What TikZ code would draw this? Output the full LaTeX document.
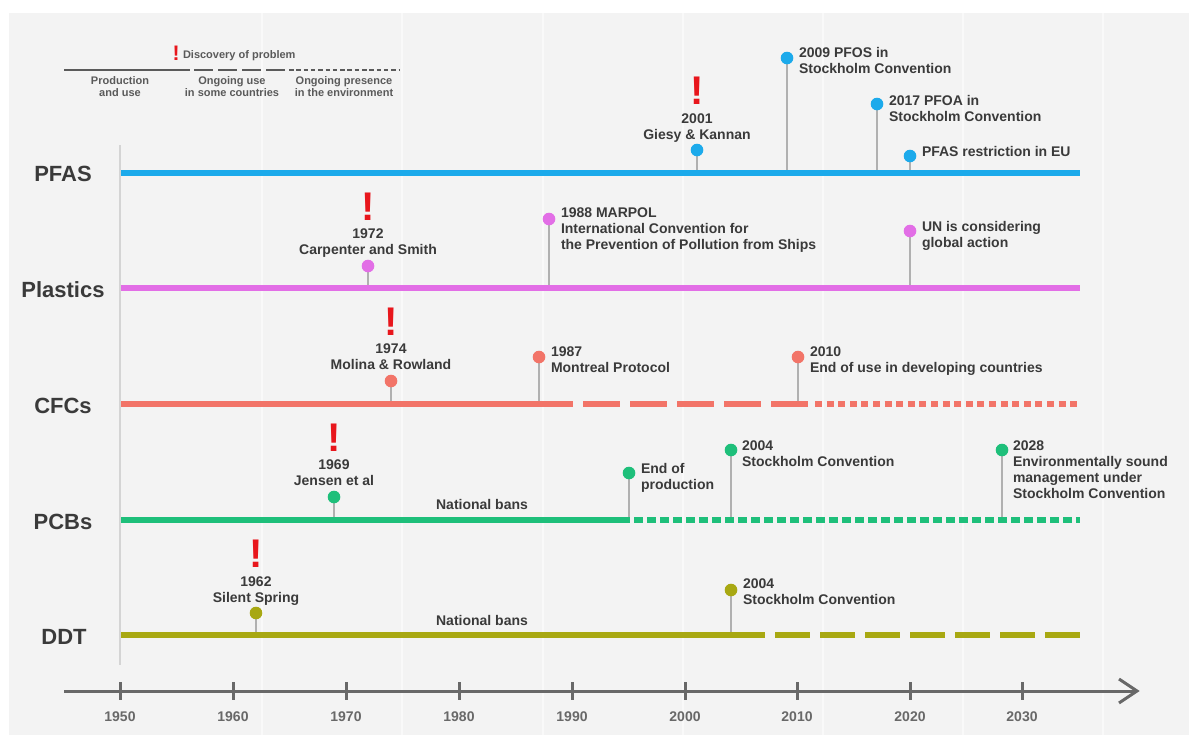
\documentclass[tikz,border=0pt]{standalone}
\usepackage{fontspec}
\setmainfont{Liberation Sans}
\definecolor{bgray}{HTML}{F3F3F3}
\definecolor{txt}{HTML}{3A3A3A}
\definecolor{legtxt}{HTML}{5A5A5A}
\definecolor{axisc}{HTML}{686868}
\definecolor{stemc}{HTML}{B0B0B0}
\definecolor{bangred}{HTML}{E8161C}
\definecolor{cpfas}{HTML}{1CAAEB}
\definecolor{cplast}{HTML}{E26EE6}
\definecolor{ccfc}{HTML}{F27468}
\definecolor{cpcb}{HTML}{1EBF7A}
\definecolor{cddt}{HTML}{A8A812}
\begin{document}
\begin{tikzpicture}[x=0.5pt,y=-0.5pt,
  every node/.style={inner sep=0pt, outer sep=0pt, text=txt},
  evl/.style={font=\bfseries\fontsize{7}{8}\selectfont, align=left, anchor=north west},
  evc/.style={font=\bfseries\fontsize{7}{8}\selectfont, align=center, anchor=north},
  bang/.style={font=\bfseries\fontsize{20}{20}\selectfont, text=bangred},
  evdot/.style={circle, fill=#1, minimum size=6.3pt},
  stemline/.style={draw=stemc, line width=1pt},
  rowline/.style={draw=#1, line width=2.6pt},
  rowlab/.style={font=\bfseries\fontsize{11}{11}\selectfont},
  leglab/.style={font=\bfseries\fontsize{5.5}{6}\selectfont, align=center, anchor=north, text=legtxt},
  legline/.style={draw=legtxt, line width=1.25pt},
  yearlab/.style={font=\bfseries\fontsize{7}{7}\selectfont, text=axisc},
  axisline/.style={draw=axisc, line width=1.5pt}
]
\useasboundingbox (0,0) rectangle (1189,735);
\fill[white] (0,0) rectangle (1189,735);
\fill[bgray] (9,13) rectangle (1189,735);
% faint vertical stripes
\foreach \xx in {262,402,543,683,823,963,1103}
  \draw[white, opacity=0.55, line width=0.8pt] (\xx,13) -- (\xx,735);
% 1950 guide line
\draw[draw=black!17, line width=0.6pt] (120,145) -- (120,665);

% ---------- legend ----------
\node[bang, font=\bfseries\fontsize{10.5}{11}\selectfont] (legbang) at (176,53.5) {!};
\node[anchor=base west, font=\bfseries\fontsize{5.5}{6}\selectfont, text=legtxt] (legdisc) at (183,58) {Discovery of problem};
\coordinate (lg0) at (64,70);
\coordinate (lg1) at (190,70);
\coordinate (lg2) at (194,70);
\coordinate (lg3) at (285,70);
\coordinate (lg4) at (289,70);
\coordinate (lg5) at (400,70);
\draw[legline] (lg0) -- (lg1);
\draw[legline, dash pattern=on 9.5pt off 2.5pt] (lg2) -- (lg3);
\draw[legline, dash pattern=on 2.25pt off 1.4pt] (lg4) -- (lg5);
\node[leglab] (leg1) at (120,77) {Production\\and use};
\node[leglab] (leg2) at (232,77) {Ongoing use\\in some countries};
\node[leglab] (leg3) at (344,77) {Ongoing presence\\in the environment};

% ---------- row labels ----------
\node[rowlab] (lpfas) at (63,174) {PFAS};
\node[rowlab] (lplast) at (63,290) {Plastics};
\node[rowlab] (lcfc) at (63,406) {CFCs};
\node[rowlab] (lpcb) at (63,522) {PCBs};
\node[rowlab] (lddt) at (64,637) {DDT};

% ---------- row coordinates ----------
\coordinate (pfasL) at (121,173);  \coordinate (pfasR) at (1080,173);
\coordinate (plastL) at (121,288); \coordinate (plastR) at (1080,288);
\coordinate (cfcL) at (121,404);   \coordinate (cfcA) at (573,404);
\coordinate (cfcB) at (583,404);   \coordinate (cfcC) at (808,404);
\coordinate (cfcD) at (815,404);   \coordinate (cfcR) at (1080,404);
\coordinate (pcbL) at (121,520);   \coordinate (pcbA) at (630,520);
\coordinate (pcbB) at (634,520);   \coordinate (pcbR) at (1080,520);
\coordinate (ddtL) at (121,635);   \coordinate (ddtA) at (765,635);
\coordinate (ddtB) at (775,635);   \coordinate (ddtR) at (1080,635);

% ---------- event dot positions ----------
\coordinate (p01) at (697,150);
\coordinate (p02) at (787,58);
\coordinate (p03) at (877,104);
\coordinate (p04) at (910,156);
\coordinate (p05) at (368,266);
\coordinate (p06) at (549,219);
\coordinate (p07) at (910,231);
\coordinate (p08) at (391,381);
\coordinate (p09) at (539,357);
\coordinate (p10) at (798,357);
\coordinate (p11) at (334,497);
\coordinate (p12) at (629,473);
\coordinate (p13) at (731,450);
\coordinate (p14) at (1002,450);
\coordinate (p15) at (256,613);
\coordinate (p16) at (731,590);

% ---------- stems ----------
\foreach \p/\r in {p01/pfasL,p02/pfasL,p03/pfasL,p04/pfasL,p05/plastL,p06/plastL,p07/plastL,
                   p08/cfcL,p09/cfcL,p10/cfcL,p11/pcbL,p12/pcbL,p13/pcbL,p14/pcbL,p15/ddtL,p16/ddtL}
  \draw[stemline] (\p) -- (\p |- \r);

% ---------- row lines ----------
\draw[rowline=cpfas] (pfasL) -- (pfasR);
\draw[rowline=cplast] (plastL) -- (plastR);
\draw[rowline=ccfc] (cfcL) -- (cfcA);
\draw[rowline=ccfc, dash pattern=on 18.5pt off 5pt] (cfcB) -- (cfcC);
\draw[rowline=ccfc, dash pattern=on 3.5pt off 2.3pt] (cfcD) -- (cfcR);
\draw[rowline=cpcb] (pcbL) -- (pcbA);
\draw[rowline=cpcb, dash pattern=on 4.25pt off 2.25pt] (pcbB) -- (pcbR);
\draw[rowline=cddt] (ddtL) -- (ddtA);
\draw[rowline=cddt, dash pattern=on 17.5pt off 5pt] (ddtB) -- (ddtR);

% ---------- dots ----------
\node[evdot=cpfas] (d01) at (p01) {};
\node[evdot=cpfas] (d02) at (p02) {};
\node[evdot=cpfas] (d03) at (p03) {};
\node[evdot=cpfas] (d04) at (p04) {};
\node[evdot=cplast] (d05) at (p05) {};
\node[evdot=cplast] (d06) at (p06) {};
\node[evdot=cplast] (d07) at (p07) {};
\node[evdot=ccfc] (d08) at (p08) {};
\node[evdot=ccfc] (d09) at (p09) {};
\node[evdot=ccfc] (d10) at (p10) {};
\node[evdot=cpcb] (d11) at (p11) {};
\node[evdot=cpcb] (d12) at (p12) {};
\node[evdot=cpcb] (d13) at (p13) {};
\node[evdot=cpcb] (d14) at (p14) {};
\node[evdot=cddt] (d15) at (p15) {};
\node[evdot=cddt] (d16) at (p16) {};

% ---------- PFAS labels ----------
\node[bang] (b01) at (697,91) {!};
\node[evc] (t01) at (697,114) {2001\\Giesy \& Kannan};
\node[evl] (t02) at (799,47) {2009 PFOS in\\Stockholm Convention};
\node[evl] (t03) at (889,95) {2017 PFOA in\\Stockholm Convention};
\node[evl] (t04) at (922,146) {PFAS restriction in EU};

% ---------- Plastics labels ----------
\node[bang] (b05) at (368,207) {!};
\node[evc] (t05) at (368,229) {1972\\Carpenter and Smith};
\node[evl] (t06) at (561,208) {1988 MARPOL\\International Convention for\\the Prevention of Pollution from Ships};
\node[evl] (t07) at (922,221) {UN is considering\\global action};

% ---------- CFCs labels ----------
\node[bang] (b08) at (391,322) {!};
\node[evc] (t08) at (391,344) {1974\\Molina \& Rowland};
\node[evl] (t09) at (551,347) {1987\\Montreal Protocol};
\node[evl] (t10) at (810,347) {2010\\End of use in developing countries};

% ---------- PCBs labels ----------
\node[bang] (b11) at (334,438) {!};
\node[evc] (t11) at (334,460) {1969\\Jensen et al};
\node[font=\bfseries\fontsize{7}{8}\selectfont] (nb1) at (482,504) {National bans};
\node[evl] (t12) at (641,463) {End of\\production};
\node[evl] (t13) at (742,441) {2004\\Stockholm Convention};
\node[evl] (t14) at (1013,441) {2028\\Environmentally sound\\management under\\Stockholm Convention};

% ---------- DDT labels ----------
\node[bang] (b15) at (256,554) {!};
\node[evc] (t15) at (256,577) {1962\\Silent Spring};
\node[font=\bfseries\fontsize{7}{8}\selectfont] (nb2) at (482,620) {National bans};
\node[evl] (t16) at (743,579) {2004\\Stockholm Convention};

% ---------- time axis ----------
\coordinate (ax0) at (64,691);
\coordinate (ax1) at (1137,691);
\coordinate (ah1) at (1119,679);
\coordinate (ah2) at (1119,703);
\draw[axisline] (ax0) -- (ax1);
\draw[axisline, line join=miter] (ah1) -- (ax1) -- (ah2);
\foreach \yr/\xx in {1950/120,1960/233,1970/346,1980/459,1990/572,2000/685,2010/797,2020/910,2030/1022}{
  \coordinate (tk\yr) at (\xx,691);
  \draw[axisline] ([yshift=4.5pt]tk\yr) -- ([yshift=-4.5pt]tk\yr);
  \node[yearlab] (y\yr) at (\xx,717) {\yr};
}
\end{tikzpicture}
\end{document}
